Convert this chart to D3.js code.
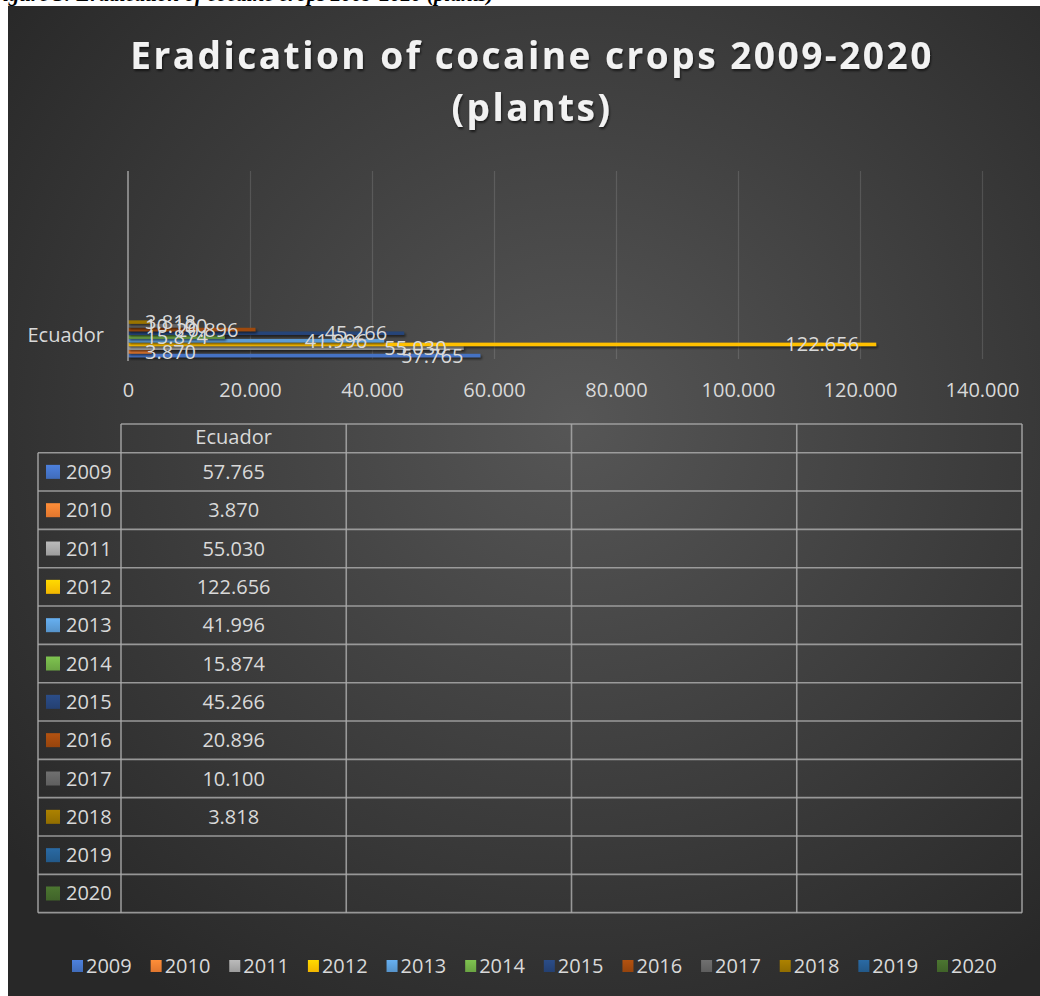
<!DOCTYPE html>
<html>
<head>
<meta charset="utf-8">
<script src="https://cdn.jsdelivr.net/npm/d3@7/dist/d3.min.js"></script>
<style>
  html, body { margin: 0; padding: 0; background: #ffffff; }
  svg { display: block; }
</style>
</head>
<body>
<svg id="chart" width="1040" height="996"></svg>
<script>
// ---------------- DATA ----------------
const categories = ["Ecuador"];
const years = ["2009","2010","2011","2012","2013","2014","2015","2016","2017","2018","2019","2020"];
const ecuadorValues = [57765, 3870, 55030, 122656, 41996, 15874, 45266, 20896, 10100, 3818, null, null];
const seriesColors = ["#4472C4","#ED7D31","#A5A5A5","#FFC000","#5B9BD5","#70AD47","#264478","#9E480E","#636363","#997300","#255E91","#43682B"];
const xTicks = [0, 20000, 40000, 60000, 80000, 100000, 120000, 140000];
const titleLines = ["Eradication of cocaine crops 2009-2020", "(plants)"];
const captionText = "Figure 3: Eradication of cocaine crops 2009-2020 (plants)";

// ---------------- SETUP ----------------
const svg = d3.select("#chart");
const W = 1040, H = 996;
const locale = d3.formatLocale({decimal: ",", thousands: ".", grouping: [3], currency: ["", ""]});
const fmt = locale.format(",.0f");
const txtColor = "#d9d9d9";
const font = "'Open Sans', sans-serif";

const defs = svg.append("defs");
const bg = defs.append("radialGradient").attr("id", "bg")
  .attr("cx", "55%").attr("cy", "42%").attr("r", "70%");
bg.append("stop").attr("offset", "0%").attr("stop-color", "#565656");
bg.append("stop").attr("offset", "100%").attr("stop-color", "#282828");

const shadow = defs.append("filter").attr("id", "shadow")
  .attr("x", "-5%").attr("y", "-100%").attr("width", "110%").attr("height", "300%");
shadow.append("feDropShadow").attr("dx", 1.5).attr("dy", 2).attr("stdDeviation", 1.2)
  .attr("flood-color", "#000").attr("flood-opacity", 0.55);

const tshadow = defs.append("filter").attr("id", "tshadow")
  .attr("x", "-5%").attr("y", "-20%").attr("width", "110%").attr("height", "140%");
tshadow.append("feDropShadow").attr("dx", 1).attr("dy", 2).attr("stdDeviation", 1.2)
  .attr("flood-color", "#000").attr("flood-opacity", 0.6);

seriesColors.forEach((c, i) => {
  const g = defs.append("linearGradient").attr("id", "sw" + i)
    .attr("x1", 0).attr("y1", 0).attr("x2", 0).attr("y2", 1);
  g.append("stop").attr("offset", "0%").attr("stop-color", d3.color(c).brighter(0.35));
  g.append("stop").attr("offset", "100%").attr("stop-color", d3.color(c).darker(0.15));
});

// Caption remnant (cut off at top)
svg.append("text").attr("x", -11).attr("y", 1)
  .attr("font-family", "'Liberation Serif', serif").attr("font-style", "italic")
  .attr("font-weight", "bold").attr("font-size", 21).attr("fill", "#000")
  .text(captionText);

// Chart background
svg.append("rect").attr("x", 8).attr("y", 6).attr("width", W - 8).attr("height", H - 6)
  .attr("fill", "url(#bg)");

// ---------------- TITLE ----------------
const title = svg.append("g").attr("filter", "url(#tshadow)");
title.selectAll("text").data(titleLines).join("text")
  .attr("x", 532).attr("y", (d, i) => 69 + i * 52)
  .attr("text-anchor", "middle")
  .attr("font-family", font).attr("font-weight", "bold")
  .attr("font-size", 37).attr("letter-spacing", 2.5)
  .attr("fill", "#f2f2f2").text(d => d);

// ---------------- PLOT ----------------
const plotTop = 171, plotBottom = 359;
const x = d3.scaleLinear().domain([0, 140000]).range([128, 982]);
const clusterTop = 312.7, clusterBottom = 357.5;
const yCat = d3.scaleBand().domain(categories).range([clusterTop, clusterBottom]);
// first series (2009) sits at the bottom of the cluster
const ySeries = d3.scaleBand().domain(years.slice().reverse()).range([0, yCat.bandwidth()]).padding(0.06);

// gridlines
const grid = svg.append("g").attr("transform", `translate(0,${plotBottom})`)
  .call(d3.axisBottom(x).tickValues(xTicks.slice(1)).tickSize(-(plotBottom - plotTop)).tickFormat(""));
grid.select(".domain").remove();
grid.selectAll("line").attr("stroke", "#ffffff").attr("stroke-opacity", 0.13).attr("stroke-width", 1.2);

// tick labels
const xAxis = svg.append("g").attr("transform", `translate(0,${plotBottom})`)
  .call(d3.axisBottom(x).tickValues(xTicks).tickSize(0).tickPadding(0).tickFormat(fmt));
xAxis.select(".domain").remove();
xAxis.selectAll("text").attr("y", 38).attr("dy", 0)
  .attr("font-family", font).attr("font-size", 20).attr("fill", txtColor);

// bars
const barData = years.map((yr, i) => ({year: yr, value: ecuadorValues[i], color: seriesColors[i], cat: categories[0]}))
  .filter(d => d.value != null);
const barsG = svg.append("g");
barsG.selectAll("rect").data(barData).join("rect")
  .attr("x", x(0))
  .attr("y", d => yCat(d.cat) + ySeries(d.year))
  .attr("width", d => x(d.value) - x(0))
  .attr("height", ySeries.bandwidth())
  .attr("fill", d => d.color)
  .attr("filter", "url(#shadow)");

// vertical category axis line
svg.append("line").attr("x1", x(0)).attr("x2", x(0)).attr("y1", plotTop).attr("y2", plotBottom + 2)
  .attr("stroke", "#a0a0a0").attr("stroke-width", 1.5);

// category label
svg.append("g").selectAll("text").data(categories).join("text")
  .attr("x", 104).attr("y", d => yCat(d) + yCat.bandwidth() / 2 + 7)
  .attr("text-anchor", "end").attr("font-family", font).attr("font-size", 20)
  .attr("fill", txtColor).text(d => d);

// data labels
const labels = svg.append("g").selectAll("text").data(barData).join("text")
  .attr("y", d => yCat(d.cat) + ySeries(d.year) + ySeries.bandwidth() / 2 + 7)
  .attr("text-anchor", "end").attr("font-family", font).attr("font-size", 20)
  .attr("fill", txtColor).text(d => fmt(d.value));
labels.each(function(d) {
  const w = this.getComputedTextLength();
  const xr = Math.max(x(d.value) - 17, x(0) + 17 + w);
  d3.select(this).attr("x", xr);
});

// ---------------- DATA TABLE ----------------
const tblLeft = 38, tblColStart = 121, tblRight = 1022;
const headerTop = 424, rowTop = 452.7, rowH = 38.33;
const nDataCols = 4;
const colX = d3.scaleLinear().domain([0, nDataCols]).range([tblColStart, tblRight]);
const rowY = d3.scaleBand().domain(years).range([rowTop, rowTop + rowH * years.length]);
const lineColor = "#a9a9a9";
const tbl = svg.append("g").attr("stroke", lineColor).attr("stroke-width", 1.6).attr("stroke-opacity", 0.85);
tbl.append("line").attr("x1", tblColStart).attr("x2", tblRight).attr("y1", headerTop).attr("y2", headerTop);
const hLines = [rowTop].concat(years.map(y => rowY(y) + rowY.bandwidth()));
tbl.selectAll("line.h").data(hLines).join("line").attr("class", "h")
  .attr("x1", tblLeft).attr("x2", tblRight).attr("y1", d => d).attr("y2", d => d);
const bottomY = rowTop + rowH * years.length;
tbl.append("line").attr("x1", tblLeft).attr("x2", tblLeft).attr("y1", rowTop).attr("y2", bottomY);
tbl.selectAll("line.v").data(d3.range(nDataCols + 1)).join("line").attr("class", "v")
  .attr("x1", d => colX(d)).attr("x2", d => colX(d)).attr("y1", headerTop).attr("y2", bottomY);

// header text
svg.append("g").selectAll("text").data(categories).join("text")
  .attr("x", (d, i) => (colX(i) + colX(i + 1)) / 2).attr("y", headerTop + 20)
  .attr("text-anchor", "middle").attr("font-family", font).attr("font-size", 20)
  .attr("fill", txtColor).text(d => d);

// row labels with swatches
const rows = svg.append("g").selectAll("g").data(years).join("g")
  .attr("transform", d => `translate(0,${rowY(d) + rowY.bandwidth() / 2})`);
rows.append("rect").attr("x", 46).attr("y", -7).attr("width", 14).attr("height", 14)
  .attr("fill", (d, i) => `url(#sw${i})`);
rows.append("text").attr("x", 66).attr("y", 7)
  .attr("font-family", font).attr("font-size", 20).attr("fill", txtColor).text(d => d);
rows.append("text").attr("x", (colX(0) + colX(1)) / 2).attr("y", 7).attr("text-anchor", "middle")
  .attr("font-family", font).attr("font-size", 20).attr("fill", txtColor)
  .text((d, i) => ecuadorValues[i] == null ? "" : fmt(ecuadorValues[i]));

// ---------------- LEGEND ----------------
const legX = d3.scalePoint().domain(years).range([72, 937]);
const leg = svg.append("g").selectAll("g").data(years).join("g")
  .attr("transform", d => `translate(${legX(d)},966)`);
leg.append("rect").attr("x", 0).attr("y", -6).attr("width", 11).attr("height", 12)
  .attr("fill", (d, i) => `url(#sw${i})`);
leg.append("text").attr("x", 14).attr("y", 7)
  .attr("font-family", font).attr("font-size", 20).attr("fill", txtColor).text(d => d);
</script>
</body>
</html>
